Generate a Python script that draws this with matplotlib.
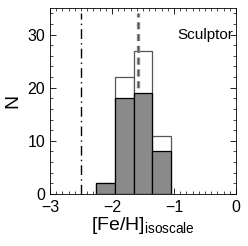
import matplotlib
matplotlib.use("Agg")
import matplotlib.pyplot as plt
from matplotlib.ticker import MultipleLocator
import numpy as np

plt.rcParams.update({
    "font.family": "Liberation Sans",
    "mathtext.fontset": "custom",
    "mathtext.rm": "Liberation Sans",
    "mathtext.it": "Liberation Sans",
    "xtick.direction": "in",
    "ytick.direction": "in",
    "lines.scale_dashes": False,
})

# ---- data ----
bin_edges = [-2.25, -1.95, -1.65, -1.35, -1.05]
n_all = [2, 22, 27, 11]
n_sub = [2, 18, 19, 8]
feh_ref = -2.5
feh_mean = -1.58

fig = plt.figure(figsize=(2.48, 2.46), dpi=100)
ax = fig.add_axes([0.2016, 0.2114, 0.75, 0.756])

lefts = np.array(bin_edges[:-1])
widths = np.diff(bin_edges)
ax.bar(lefts, n_all, width=widths, align="edge", color="white",
       edgecolor="#555555", lw=0.9, zorder=1)
# mean line sits behind the filled part
ax.vlines(feh_mean, 0, 34, color="#8c8c8c", linestyles=(0, (5, 3.5)), lw=2.4, zorder=1.5)
ax.vlines(feh_mean, 0, 34, color="#555555", linestyles=(0, (5, 3.5)), lw=0.8, zorder=1.6)
ax.bar(lefts, n_sub, width=widths, align="edge", color="#8a8a8a",
       edgecolor="black", lw=0.9, zorder=2)

ax.vlines(feh_ref, 0, 34, color="black", linestyles=(0, (7, 3, 1, 3)), lw=1.0, zorder=3)

ax.text(-0.05, 30, "Sculptor", ha="right", va="center", fontsize=11)

ax.set_xlim(-3, 0)
ax.set_ylim(0, 35)
ax.xaxis.set_major_locator(MultipleLocator(1))
ax.xaxis.set_minor_locator(MultipleLocator(0.1))
ax.yaxis.set_major_locator(MultipleLocator(10))
ax.yaxis.set_minor_locator(MultipleLocator(2))
ax.tick_params(which="both", top=True, right=True, labelsize=11.5)
ax.tick_params(axis="x", which="both", pad=4.5)
ax.tick_params(axis="y", which="both", pad=3.5)
ax.tick_params(which="major", length=4, width=0.6)
ax.tick_params(which="minor", length=2, width=0.5)
for s in ax.spines.values():
    s.set_linewidth(0.6)

ax.set_ylabel("N", fontsize=14, labelpad=4)
ax.set_xlabel(r"[Fe/H]$_{\rm isoscale}$", fontsize=14, labelpad=0)

fig.savefig("out.png", dpi=100, facecolor="white")
